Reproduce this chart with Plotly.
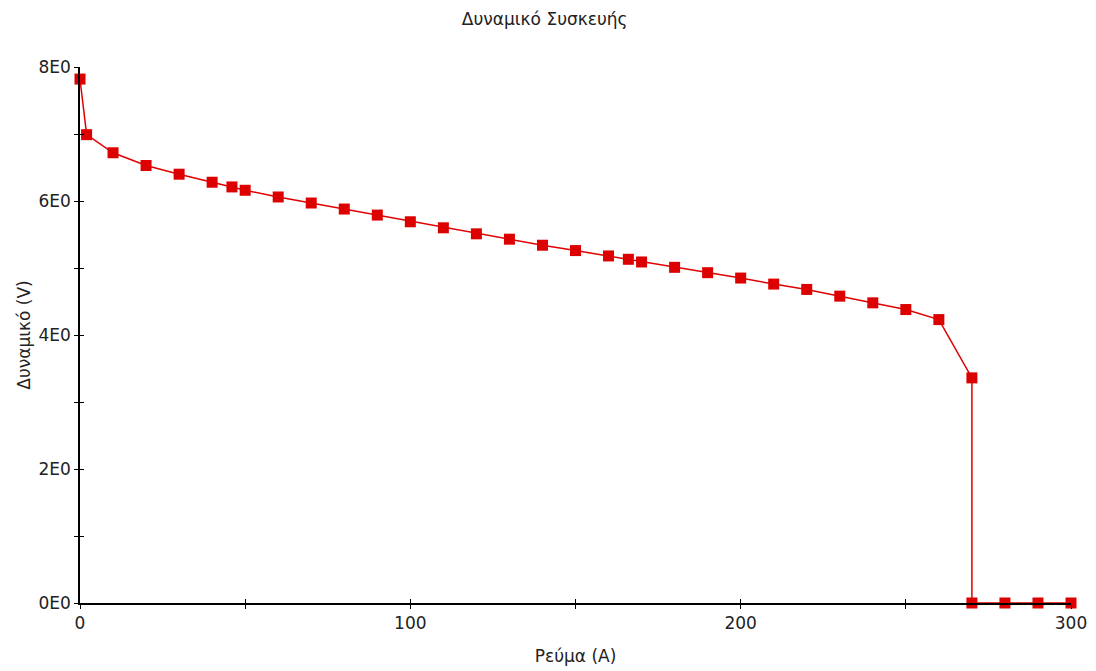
import plotly.graph_objects as go

current = [0, 2, 10, 20, 30, 40, 46, 50, 60, 70, 80, 90, 100, 110, 120, 130, 140, 150,
           160, 166, 170, 180, 190, 200, 210, 220, 230, 240, 250, 260, 270, 270, 280, 290, 300]
voltage = [7.82, 6.99, 6.72, 6.53, 6.40, 6.28, 6.21, 6.16, 6.06, 5.97, 5.88, 5.79, 5.69, 5.60,
           5.51, 5.43, 5.34, 5.26, 5.18, 5.13, 5.09, 5.01, 4.93, 4.85, 4.76, 4.68, 4.58, 4.48,
           4.38, 4.23, 3.36, 0, 0, 0, 0]

x_tickvals = [0, 50, 100, 150, 200, 250, 300]
x_ticktext = ["0", "", "100", "", "200", "", "300"]
y_tickvals = [0, 1, 2, 3, 4, 5, 6, 7, 8]
y_ticktext = ["0E0", "", "2E0", "", "4E0", "", "6E0", "", "8E0"]

title_text = "Δυναμικό Συσκευής"
x_title = "Ρεύμα (A)"
y_title = "Δυναμικό (V)"

font_family = "DejaVu Sans"
fsize = 17
red = "#e00000"

fig = go.Figure()
fig.add_trace(go.Scatter(
    x=current, y=voltage, mode="lines+markers",
    line=dict(color=red, width=1.5),
    marker=dict(symbol="square", size=11, color="#dd0000"),
    cliponaxis=False, showlegend=False,
))
# invisible trace on overlay axes so they render
fig.add_trace(go.Scatter(x=[current[0]], y=[voltage[0]], xaxis="x2", yaxis="y2",
                         mode="markers", marker=dict(opacity=0), showlegend=False,
                         hoverinfo="skip"))

axis_common = dict(showgrid=False, zeroline=False, tickcolor="black", tickwidth=1,
                   ticklen=4, automargin=False,
                   tickfont=dict(family=font_family, size=fsize, color="#222"))

fig.update_layout(
    width=1096, height=671,
    paper_bgcolor="white", plot_bgcolor="white",
    margin=dict(l=80, r=25, t=67, b=68),
    title=dict(text=title_text, x=0.497, xanchor="center", y=0.971, yanchor="middle",
               font=dict(family=font_family, size=fsize, color="#222")),
    xaxis=dict(range=[0, 300], tickvals=x_tickvals, ticktext=x_ticktext,
               ticks="outside", showline=True, linecolor="black", linewidth=1.5,
               title=dict(text=x_title, font=dict(family=font_family, size=fsize, color="#222"),
                          standoff=18),
               **axis_common),
    yaxis=dict(range=[0, 8], tickvals=y_tickvals, ticktext=y_ticktext,
               ticks="outside", showline=True, linecolor="black", linewidth=1.5,
               title=dict(text=y_title, font=dict(family=font_family, size=fsize, color="#222"),
                          standoff=4),
               **axis_common),
    xaxis2=dict(overlaying="x", matches="x", range=[0, 300], tickvals=x_tickvals,
                showticklabels=False, ticks="inside", showline=False, anchor="y2",
                side="bottom", **axis_common),
    yaxis2=dict(overlaying="y", matches="y", range=[0, 8], tickvals=y_tickvals,
                showticklabels=False, ticks="inside", showline=False, anchor="x2",
                side="left", **axis_common),
)

fig.write_html("out.html")
